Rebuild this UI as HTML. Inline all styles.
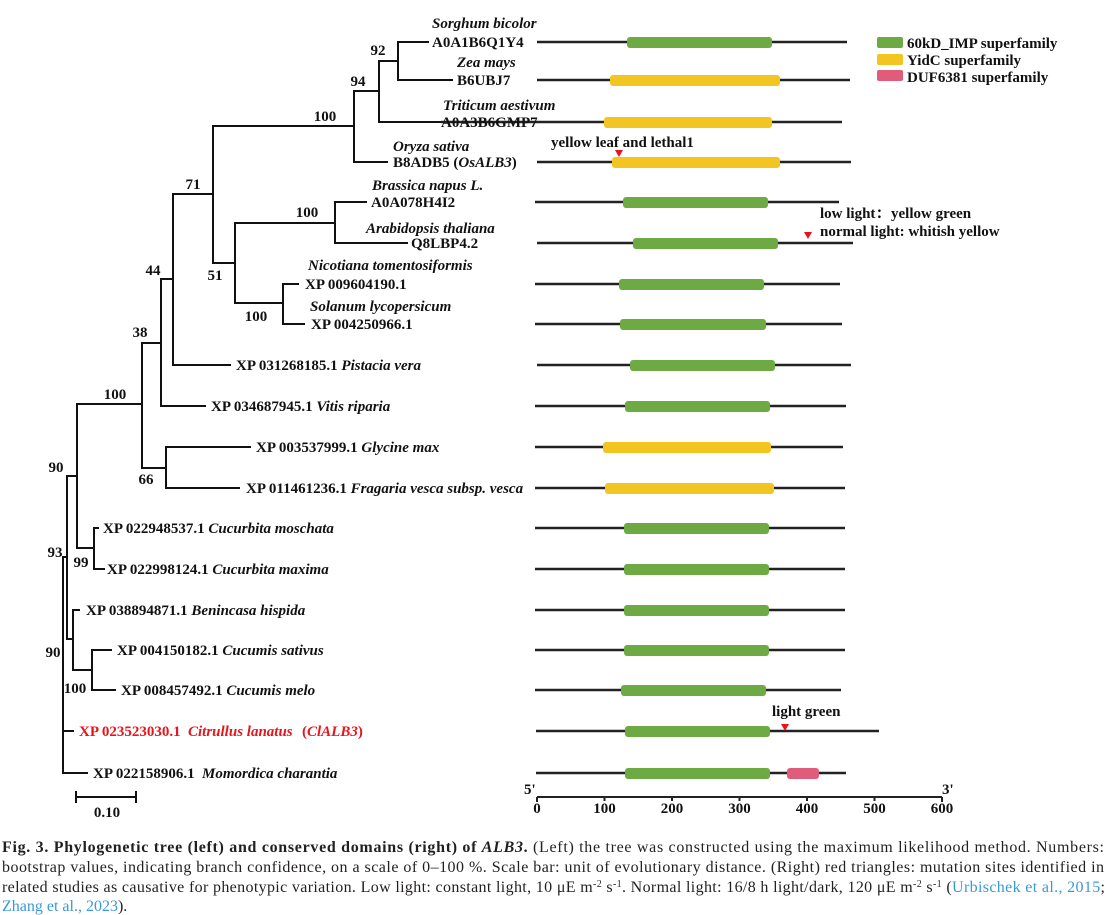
<!DOCTYPE html>
<html><head><meta charset="utf-8">
<style>
html,body{margin:0;padding:0;background:#fff;}
svg{display:block;}
.t{font-family:"Liberation Serif","Noto Serif CJK SC",serif;font-weight:bold;font-size:15px;fill:#111;}
.i{font-style:italic;}
.cap{font-family:"Liberation Serif","Noto Serif CJK SC",serif;font-size:16px;fill:#231f20;}
</style></head>
<body>
<svg width="1118" height="915" viewBox="0 0 1118 915" xmlns="http://www.w3.org/2000/svg">
<rect width="1118" height="915" fill="#fff"/>
<!-- tree -->
<path fill="none" stroke="#111" stroke-width="2" stroke-linecap="square" d="
M398 42 V80 M398 42 H428 M398 80 H452
M379 61 V122 M379 61 H398 M379 122 H441
M354 91 V162 M354 91 H379 M354 162 H387
M213 126 V263 M213 126 H354
M235 223 V303 M213 263 H235
M335 202 V243 M235 223 H335 M335 202 H366 M335 243 H407
M283 284 V324 M235 303 H283 M283 284 H298 M283 324 H304
M173 194 V365 M173 194 H213 M173 365 H230
M161 279 V406 M161 279 H173 M161 406 H205
M142 343 V468 M142 343 H161 M77 404 H142
M166 447 V488 M142 468 H166 M166 447 H250 M166 488 H239
M77 404 V548 M67 476 H77
M94 528 V569 M77 548 H94 M94 528 H98 M94 569 H104
M67 476 V639 M63 557 H67
M73 610 V670 M67 639 H73 M73 610 H79
M92 650 V690 M73 670 H92 M92 650 H111 M92 690 H115
M63 557 V773 M63 731 H73 M63 773 H87
M76 797 H136 M76 792 V802 M136 792 V802"/>
<text class="t" x="107" y="817" text-anchor="middle">0.10</text>

<!-- bootstrap labels -->
<g class="t" text-anchor="middle">
<text x="193" y="189">71</text>
<text x="325" y="121">100</text>
<text x="358" y="86">94</text>
<text x="378" y="55">92</text>
<text x="307" y="217">100</text>
<text x="215" y="280">51</text>
<text x="256" y="321">100</text>
<text x="153" y="275">44</text>
<text x="140" y="337">38</text>
<text x="115" y="399">100</text>
<text x="146" y="484">66</text>
<text x="56" y="472">90</text>
<text x="55" y="557">93</text>
<text x="81" y="567">99</text>
<text x="75" y="693">100</text>
<text x="53" y="657">90</text>
</g>

<!-- domain lines -->
<g stroke="#222" stroke-width="2.5">
<line x1="537" y1="42" x2="847" y2="42"/>
<line x1="537" y1="80" x2="850" y2="80"/>
<line x1="441" y1="122" x2="842" y2="122"/>
<line x1="537" y1="162" x2="851" y2="162"/>
<line x1="535" y1="202" x2="839" y2="202"/>
<line x1="537" y1="243" x2="853" y2="243"/>
<line x1="535" y1="284" x2="840" y2="284"/>
<line x1="535" y1="324" x2="842" y2="324"/>
<line x1="537" y1="365" x2="851" y2="365"/>
<line x1="535" y1="406" x2="846" y2="406"/>
<line x1="535" y1="447" x2="843" y2="447"/>
<line x1="535" y1="488" x2="845" y2="488"/>
<line x1="535" y1="528" x2="845" y2="528"/>
<line x1="535" y1="569" x2="845" y2="569"/>
<line x1="535" y1="610" x2="845" y2="610"/>
<line x1="535" y1="650" x2="845" y2="650"/>
<line x1="535" y1="690" x2="841" y2="690"/>
<line x1="536" y1="731" x2="879" y2="731"/>
<line x1="536" y1="773" x2="846" y2="773"/>
</g>

<!-- domain bars -->
<g>
<rect x="627" y="37" width="145" height="11" rx="3" fill="#6eaa43"/>
<rect x="610" y="75" width="170" height="11" rx="3" fill="#f2c523"/>
<rect x="604" y="117" width="168" height="11" rx="3" fill="#f2c523"/>
<rect x="612" y="157" width="168" height="11" rx="3" fill="#f2c523"/>
<rect x="623" y="197" width="145" height="11" rx="3" fill="#6eaa43"/>
<rect x="633" y="238" width="145" height="11" rx="3" fill="#6eaa43"/>
<rect x="619" y="279" width="145" height="11" rx="3" fill="#6eaa43"/>
<rect x="620" y="319" width="146" height="11" rx="3" fill="#6eaa43"/>
<rect x="630" y="360" width="145" height="11" rx="3" fill="#6eaa43"/>
<rect x="625" y="401" width="145" height="11" rx="3" fill="#6eaa43"/>
<rect x="603" y="442" width="168" height="11" rx="3" fill="#f2c523"/>
<rect x="605" y="483" width="169" height="11" rx="3" fill="#f2c523"/>
<rect x="624" y="523" width="145" height="11" rx="3" fill="#6eaa43"/>
<rect x="624" y="564" width="145" height="11" rx="3" fill="#6eaa43"/>
<rect x="624" y="605" width="145" height="11" rx="3" fill="#6eaa43"/>
<rect x="624" y="645" width="145" height="11" rx="3" fill="#6eaa43"/>
<rect x="621" y="685" width="145" height="11" rx="3" fill="#6eaa43"/>
<rect x="625" y="726" width="145" height="11" rx="3" fill="#6eaa43"/>
<rect x="625" y="768" width="145" height="11" rx="3" fill="#6eaa43"/>
<rect x="787" y="768" width="32" height="11" rx="3" fill="#e05c7b"/>
</g>

<!-- red triangles -->
<g fill="#e8141c">
<polygon points="615,150 623,150 619,157"/>
<polygon points="804,232 812,232 808,239"/>
<polygon points="781,724 789,724 785,731"/>
</g>

<!-- annotations -->
<text class="t" x="551" y="147">yellow leaf and lethal1</text>
<text class="t" x="820" y="218">low light：<tspan x="891">yellow green</tspan></text>
<text class="t" x="820" y="236">normal light: whitish yellow</text>
<text class="t" x="772" y="716">light green</text>

<!-- legend -->
<rect x="877" y="37" width="26" height="11" rx="2" fill="#6eaa43"/>
<rect x="877" y="54" width="26" height="11" rx="2" fill="#f2c523"/>
<rect x="877" y="70" width="26" height="11" rx="2" fill="#e05c7b"/>
<text class="t" x="907" y="48">60kD_IMP superfamily</text>
<text class="t" x="907" y="65">YidC superfamily</text>
<text class="t" x="907" y="82">DUF6381 superfamily</text>

<!-- axis -->
<path fill="none" stroke="#222" stroke-width="2" d="M537 797 H942 M537 797 V802 M604.5 797 V801 M672 797 V801 M739.5 797 V801 M807 797 V801 M874.5 797 V801 M942 797 V802"/>
<g class="t" text-anchor="middle">
<text x="537" y="813">0</text>
<text x="604.5" y="813">100</text>
<text x="672" y="813">200</text>
<text x="739.5" y="813">300</text>
<text x="807" y="813">400</text>
<text x="874.5" y="813">500</text>
<text x="942" y="813">600</text>
</g>
<text class="t" x="524" y="794">5'</text>
<text class="t" x="942" y="794">3'</text>

<!-- leaf labels -->
<g class="t">
<text class="i" x="432" y="28">Sorghum bicolor</text>
<text x="432" y="47">A0A1B6Q1Y4</text>
<text class="i" x="457" y="67">Zea mays</text>
<text x="457" y="85">B6UBJ7</text>
<text class="i" x="443" y="110">Triticum aestivum</text>
<text x="441" y="127">A0A3B6GMP7</text>
<text class="i" x="393" y="151">Oryza sativa</text>
<text x="393" y="167">B8ADB5 (<tspan class="i">OsALB3</tspan>)</text>
<text class="i" x="372" y="190">Brassica napus L.</text>
<text x="371" y="207">A0A078H4I2</text>
<text class="i" x="366" y="233">Arabidopsis thaliana</text>
<text x="411" y="248">Q8LBP4.2</text>
<text class="i" x="308" y="270">Nicotiana tomentosiformis</text>
<text x="305" y="289">XP 009604190.1</text>
<text class="i" x="310" y="311">Solanum lycopersicum</text>
<text x="311" y="329">XP 004250966.1</text>
<text x="236" y="370">XP 031268185.1 <tspan class="i">Pistacia vera</tspan></text>
<text x="211" y="411">XP 034687945.1 <tspan class="i">Vitis riparia</tspan></text>
<text x="256" y="452">XP 003537999.1 <tspan class="i">Glycine max</tspan></text>
<text x="246" y="493">XP 011461236.1 <tspan class="i">Fragaria vesca subsp. vesca</tspan></text>
<text x="103" y="533">XP 022948537.1 <tspan class="i">Cucurbita moschata</tspan></text>
<text x="107" y="574">XP 022998124.1 <tspan class="i">Cucurbita maxima</tspan></text>
<text x="86" y="615">XP 038894871.1 <tspan class="i">Benincasa hispida</tspan></text>
<text x="117" y="655">XP 004150182.1 <tspan class="i">Cucumis sativus</tspan></text>
<text x="121" y="695">XP 008457492.1 <tspan class="i">Cucumis melo</tspan></text>
<text x="79" y="736" style="fill:#e8141c">XP 023523030.1<tspan class="i" x="188">Citrullus lanatus</tspan><tspan x="302">(</tspan><tspan class="i">ClALB3</tspan>)</text>
<text x="93" y="778">XP 022158906.1<tspan class="i" x="202">Momordica charantia</tspan></text>
</g>

<!-- caption -->
<text class="cap" x="2" y="852" textLength="1102" lengthAdjust="spacing"><tspan font-weight="bold">Fig. 3. Phylogenetic tree (left) and conserved domains (right) of <tspan font-style="italic">ALB3</tspan>.</tspan> (Left) the tree was constructed using the maximum likelihood method. Numbers:</text>
<text class="cap" x="2" y="872" textLength="1102" lengthAdjust="spacing">bootstrap values, indicating branch confidence, on a scale of 0–100 %. Scale bar: unit of evolutionary distance. (Right) red triangles: mutation sites identified in</text>
<text class="cap" x="2" y="892" textLength="1103" lengthAdjust="spacing">related studies as causative for phenotypic variation. Low light: constant light, 10 μE m<tspan dy="-5" font-size="10">-2</tspan><tspan dy="5"> s</tspan><tspan dy="-5" font-size="10">-1</tspan><tspan dy="5">. Normal light: 16/8 h light/dark, 120 μE m</tspan><tspan dy="-5" font-size="10">-2</tspan><tspan dy="5"> s</tspan><tspan dy="-5" font-size="10">-1</tspan><tspan dy="5"> (</tspan><tspan fill="#3a9ad6">Urbischek et al., 2015</tspan>;</text>
<text class="cap" x="2" y="911"><tspan fill="#3a9ad6">Zhang et al., 2023</tspan>).</text>
</svg>
</body></html>
